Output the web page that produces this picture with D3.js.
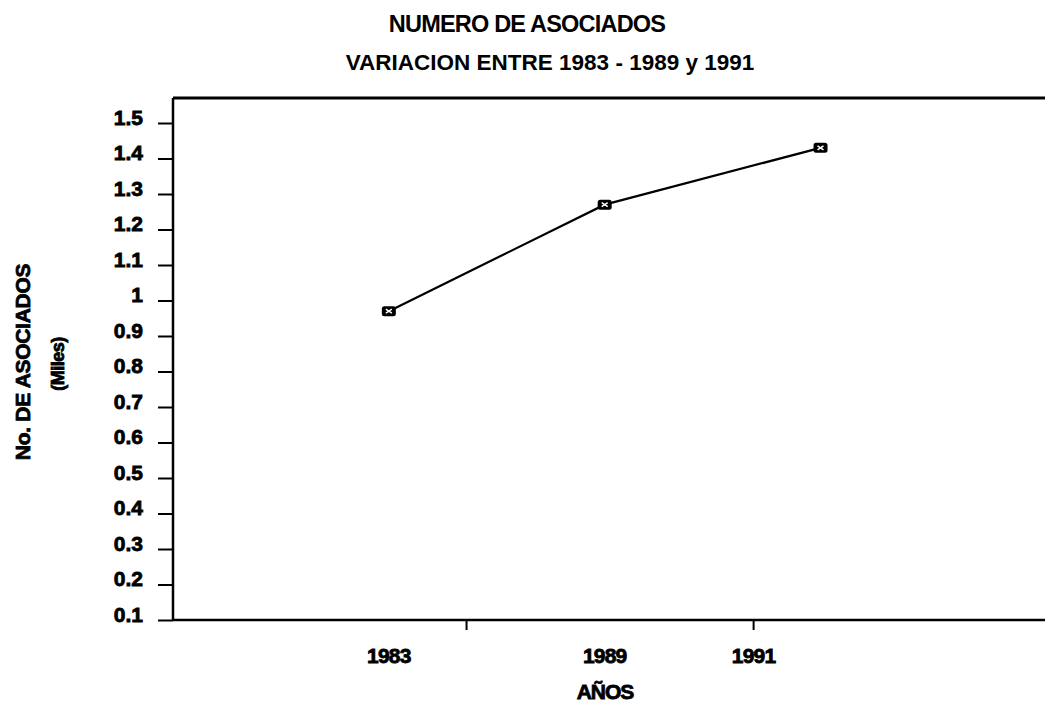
<!DOCTYPE html>
<html>
<head>
<meta charset="utf-8">
<script src="https://cdn.jsdelivr.net/npm/d3@7"></script>
<style>
body{margin:0;background:#fff;}
svg{display:block;}
text{font-family:"Liberation Sans",Arial,sans-serif;font-weight:bold;fill:#000;}
.heavy{stroke:#000;stroke-width:0.8px;}
</style>
</head>
<body>
<svg id="svg" width="1045" height="705"></svg>
<script>
var years=['1983','1989','1991'];
var asociados=[0.97,1.27,1.43];
var yticks=[0.1,0.2,0.3,0.4,0.5,0.6,0.7,0.8,0.9,1,1.1,1.2,1.3,1.4,1.5];
// where the year labels and the two tick marks sit on the x axis (in point units)
var xlabelpos=[1,2,2.69];
var xtickpos=[1.36,2.69];

var svg=d3.select("#svg");
var padding={top:98,right:0,bottom:85,left:173};
var chartarea={
	width:1045-padding.left-padding.right,
	height:705-padding.top-padding.bottom
};

var xscale=d3.scaleLinear().domain([0,4.04]).range([0,chartarea.width]);
var yscale=d3.scaleLinear().domain([0.1,1.5]).range([chartarea.height,25]);

var g=svg.append("g").attr("transform","translate("+padding.left+","+padding.top+")");

// frame: top, left, bottom
g.append("line").attr("x1",0).attr("x2",chartarea.width).attr("y1",0).attr("y2",0)
.attr("stroke","#000").attr("stroke-width",3);
g.append("line").attr("x1",0).attr("x2",0).attr("y1",0).attr("y2",chartarea.height)
.attr("stroke","#000").attr("stroke-width",2.5);
g.append("line").attr("x1",0).attr("x2",chartarea.width).attr("y1",chartarea.height).attr("y2",chartarea.height)
.attr("stroke","#000").attr("stroke-width",2.5);

// y axis
var yaxis=g.append("g").call(d3.axisLeft(yscale).tickValues(yticks).tickSize(15).tickPadding(15)
	.tickFormat(function(d){return d3.format("")(d);}));
yaxis.select(".domain").remove();
yaxis.selectAll("line").attr("stroke","#000").attr("stroke-width",2);
yaxis.selectAll("text").attr("dy","0.05em").attr("class","heavy")
.style("font-size","21px").style("font-family","Liberation Sans, Arial, sans-serif")
.style("font-weight","bold");

// x axis ticks
g.selectAll(".xtick").data(xtickpos).enter().append("line")
.attr("x1",function(d){return xscale(d);}).attr("x2",function(d){return xscale(d);})
.attr("y1",chartarea.height).attr("y2",chartarea.height+10)
.attr("stroke","#000").attr("stroke-width",2);

g.selectAll(".xlab").data(years).enter().append("text")
.attr("class","heavy")
.attr("x",function(d,i){return xscale(xlabelpos[i]);})
.attr("y",chartarea.height+43)
.attr("text-anchor","middle")
.style("font-size","21px").style("letter-spacing","-0.8px")
.text(function(d){return d;});

// line
var line=d3.line()
.x(function(d,i){return xscale(i+1);})
.y(function(d){return yscale(d);});
g.append("path").datum(asociados).attr("d",line)
.attr("fill","none").attr("stroke","#000").attr("stroke-width",2.2);

var mk=g.selectAll(".mk").data(asociados).enter().append("g")
.attr("transform",function(d,i){return "translate("+xscale(i+1)+","+yscale(d)+")";});
mk.append("rect").attr("x",-7).attr("y",-5).attr("width",14).attr("height",10).attr("rx",2.5)
.attr("fill","#000");
mk.append("path").attr("d","M-3,-2L3,2M-3,2L3,-2").attr("stroke","#fff").attr("stroke-width",1.5);

// titles
svg.append("text").attr("x",527).attr("y",32).attr("text-anchor","middle")
.style("font-family","Liberation Sans Narrow, Liberation Sans, Arial, sans-serif")
.style("font-size","23.5px").style("letter-spacing","-0.8px")
.text("NUMERO DE ASOCIADOS");
svg.append("text").attr("x",550).attr("y",70).attr("text-anchor","middle")
.style("font-size","22.5px")
.text("VARIACION ENTRE 1983 - 1989 y 1991");

svg.append("text").attr("class","heavy").attr("x",605).attr("y",699).attr("text-anchor","middle")
.style("font-size","21px").style("letter-spacing","-1px")
.text("AÑOS");

svg.append("text").attr("class","heavy").attr("transform","translate(30,362) rotate(-90)").attr("text-anchor","middle")
.style("font-size","21px").style("letter-spacing","-0.3px")
.text("No. DE  ASOCIADOS");
svg.append("text").attr("class","heavy").attr("transform","translate(64,364) rotate(-90)").attr("text-anchor","middle")
.style("font-size","18px").style("letter-spacing","-0.5px")
.text("(Miles)");
</script>
</body>
</html>
